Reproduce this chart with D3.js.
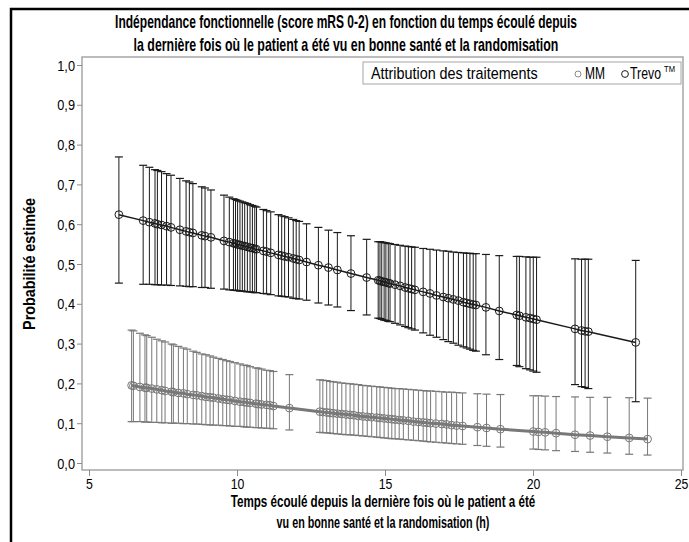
<!DOCTYPE html>
<html><head><meta charset="utf-8">
<script src="https://cdn.jsdelivr.net/npm/d3@7"></script>
<style>
body{margin:0;background:#fff}
text{font-family:"Liberation Sans",Arial,sans-serif}
</style>
</head><body>
<svg id="c" width="689" height="542"></svg>
<script>
const titleLines = ["Indépendance fonctionnelle (score mRS 0-2) en fonction du temps écoulé depuis",
                    "la dernière fois où le patient a été vu en bonne santé et la randomisation"];
const xTitleLines = ["Temps écoulé depuis la dernière fois où le patient a été",
                     "vu en bonne santé et la randomisation (h)"];
const yTitle = "Probabilité estimée";
const legendTitle = "Attribution des traitements";
const seriesNames = ["MM", "Trevo"];
const xTicks = [5, 10, 15, 20, 25];
const yTicks = [0, 0.1, 0.2, 0.3, 0.4, 0.5, 0.6, 0.7, 0.8, 0.9, 1.0];

const trevoTime = [6.01,6.83,7.04,7.23,7.31,7.45,7.62,7.77,8.07,8.28,
  8.39,8.51,8.81,8.92,9.12,9.56,9.74,9.88,9.95,10.02,
  10.1,10.18,10.26,10.35,10.44,10.52,10.6,10.66,10.89,11.0,
  11.14,11.4,11.51,11.61,11.74,11.9,12.0,12.1,12.35,12.75,
  13.09,13.39,13.85,14.38,14.77,14.83,14.89,14.97,15.03,15.11,
  15.17,15.34,15.51,15.68,15.79,15.9,16.01,16.29,16.52,16.74,
  16.97,17.14,17.31,17.48,17.65,17.76,17.87,17.98,18.07,18.41,
  18.86,19.45,19.54,19.76,19.9,20.01,20.12,21.42,21.64,21.76,
  21.87,23.47];
const trevoProb = [0.624,0.609,0.605,0.602,0.600,0.598,0.595,0.592,0.586,0.582,
  0.580,0.578,0.572,0.570,0.567,0.558,0.555,0.552,0.551,0.549,
  0.548,0.546,0.545,0.543,0.541,0.540,0.538,0.537,0.533,0.531,
  0.528,0.523,0.521,0.519,0.517,0.514,0.512,0.510,0.505,0.497,
  0.491,0.485,0.476,0.466,0.459,0.458,0.456,0.455,0.454,0.452,
  0.451,0.448,0.445,0.441,0.439,0.437,0.435,0.430,0.426,0.421,
  0.417,0.414,0.411,0.408,0.404,0.402,0.400,0.398,0.397,0.391,
  0.382,0.372,0.370,0.366,0.364,0.362,0.360,0.337,0.333,0.331,
  0.330,0.303];
const trevoLow = [0.452,0.449,0.449,0.448,0.448,0.447,0.447,0.446,0.445,0.444,
  0.443,0.443,0.441,0.441,0.439,0.437,0.435,0.434,0.434,0.433,
  0.432,0.432,0.431,0.430,0.430,0.429,0.428,0.428,0.426,0.425,
  0.423,0.420,0.419,0.418,0.417,0.414,0.413,0.412,0.409,0.402,
  0.397,0.392,0.383,0.372,0.364,0.363,0.361,0.359,0.358,0.356,
  0.355,0.351,0.347,0.343,0.340,0.337,0.334,0.327,0.321,0.316,
  0.310,0.305,0.301,0.296,0.292,0.289,0.286,0.283,0.281,0.272,
  0.260,0.245,0.242,0.237,0.234,0.231,0.228,0.197,0.192,0.190,
  0.187,0.154];
const trevoHigh = [0.769,0.748,0.743,0.737,0.735,0.732,0.727,0.723,0.715,0.709,
  0.706,0.702,0.694,0.691,0.686,0.673,0.668,0.664,0.662,0.660,
  0.658,0.656,0.654,0.652,0.649,0.647,0.645,0.643,0.637,0.634,
  0.631,0.624,0.621,0.619,0.616,0.612,0.609,0.607,0.601,0.592,
  0.585,0.579,0.571,0.562,0.556,0.556,0.555,0.554,0.553,0.552,
  0.551,0.549,0.547,0.545,0.544,0.543,0.542,0.539,0.537,0.535,
  0.533,0.532,0.530,0.529,0.528,0.527,0.527,0.526,0.526,0.524,
  0.521,0.519,0.519,0.518,0.517,0.517,0.517,0.513,0.512,0.512,
  0.512,0.509];

const mmTime = [6.44,6.50,6.72,6.89,6.95,7.12,7.29,7.46,7.57,7.79,
  7.85,8.02,8.19,8.32,8.52,8.64,8.81,8.95,9.09,9.20,
  9.37,9.52,9.65,9.76,9.93,10.10,10.24,10.33,10.44,10.64,
  10.72,10.83,11.00,11.11,11.23,11.77,12.80,12.90,13.03,13.14,
  13.25,13.39,13.54,13.68,13.82,13.95,14.10,14.25,14.40,14.55,
  14.72,14.83,14.97,15.11,15.23,15.34,15.48,15.62,15.79,15.96,
  16.13,16.29,16.41,16.54,16.72,16.92,17.08,17.25,17.42,17.62,
  18.12,18.43,18.90,20.01,20.18,20.41,20.78,21.42,21.93,22.51,
  23.25,23.87];
const mmProb = [0.195,0.194,0.191,0.189,0.189,0.187,0.185,0.183,0.181,0.179,
  0.178,0.176,0.175,0.173,0.171,0.170,0.168,0.166,0.165,0.164,
  0.162,0.160,0.159,0.158,0.156,0.154,0.153,0.152,0.151,0.149,
  0.148,0.147,0.146,0.145,0.143,0.138,0.129,0.128,0.127,0.126,
  0.125,0.124,0.123,0.122,0.121,0.120,0.118,0.117,0.116,0.115,
  0.114,0.113,0.112,0.111,0.110,0.109,0.108,0.107,0.106,0.104,
  0.103,0.102,0.101,0.100,0.099,0.098,0.097,0.095,0.094,0.093,
  0.090,0.088,0.085,0.079,0.078,0.077,0.075,0.071,0.069,0.066,
  0.063,0.060];
const mmLow = [0.104,0.104,0.104,0.103,0.103,0.102,0.102,0.101,0.101,0.100,
  0.100,0.100,0.099,0.099,0.098,0.098,0.097,0.096,0.096,0.095,
  0.095,0.094,0.094,0.093,0.092,0.092,0.091,0.090,0.090,0.089,
  0.089,0.088,0.087,0.087,0.086,0.083,0.077,0.076,0.076,0.075,
  0.074,0.073,0.072,0.071,0.071,0.070,0.069,0.068,0.067,0.066,
  0.065,0.064,0.063,0.062,0.061,0.061,0.060,0.059,0.058,0.057,
  0.056,0.055,0.054,0.053,0.052,0.051,0.050,0.049,0.048,0.047,
  0.044,0.042,0.040,0.035,0.034,0.033,0.031,0.029,0.027,0.025,
  0.022,0.020];
const mmHigh = [0.334,0.332,0.326,0.322,0.320,0.316,0.311,0.307,0.304,0.299,
  0.297,0.293,0.289,0.286,0.281,0.278,0.274,0.272,0.269,0.266,
  0.263,0.260,0.257,0.255,0.252,0.249,0.246,0.245,0.242,0.239,
  0.238,0.236,0.233,0.232,0.230,0.222,0.209,0.208,0.207,0.205,
  0.204,0.203,0.201,0.200,0.199,0.198,0.197,0.195,0.194,0.193,
  0.192,0.191,0.190,0.189,0.188,0.187,0.187,0.186,0.185,0.184,
  0.183,0.182,0.181,0.181,0.180,0.179,0.178,0.178,0.177,0.176,
  0.174,0.173,0.172,0.169,0.169,0.168,0.167,0.166,0.165,0.165,
  0.164,0.163];

const svg = d3.select('#c');
const L = 82, R = 683, T = 57, B = 470;
const x = d3.scaleLinear().domain([5, 25]).range([89, 681]);
const y = d3.scaleLinear().domain([0, 1]).range([463, 65]);

// place a text at (px,py), squeezed horizontally to the target width
function fitText(sel, px, py, target, rot) {
  const node = sel.node();
  const w = node.getComputedTextLength();
  const s = target / w;
  sel.attr('transform', `translate(${px},${py})` + (rot ? ` rotate(${rot})` : '') + ` scale(${s},1)`);
  return sel;
}

svg.append('rect').attr('width', 689).attr('height', 542).attr('fill', '#fff');
// outer frame
svg.append('rect').attr('x', 11).attr('y', 9).attr('width', 720).attr('height', 580)
  .attr('fill', 'none').attr('stroke', '#000').attr('stroke-width', 2.5);

// title
const titleW = [462, 425];
titleLines.forEach((t, i) => {
  const el = svg.append('text').attr('text-anchor', 'middle').attr('font-size', 18)
    .attr('font-weight', 'bold').text(t);
  fitText(el, 346, 28 + i * 23, titleW[i]);
});

// plot frame
svg.append('rect').attr('x', L).attr('y', T).attr('width', R - L).attr('height', B - T)
  .attr('fill', 'none').attr('stroke', '#a6a6a6').attr('stroke-width', 1.5);

// axes
const yAxis = d3.axisLeft(y).tickValues(yTicks)
  .tickFormat(d => d.toFixed(1).replace('.', ',')).tickSize(5).tickSizeOuter(0);
const gy = svg.append('g').attr('transform', `translate(${L},0)`).call(yAxis);
const xAxis = d3.axisBottom(x).tickValues(xTicks).tickFormat(d => d).tickSize(6).tickSizeOuter(0);
const gx = svg.append('g').attr('transform', `translate(0,${B})`).call(xAxis);
[gx, gy].forEach(g => {
  g.select('.domain').remove();
  g.selectAll('.tick line').attr('stroke', '#8c8c8c');
  g.selectAll('.tick text').attr('fill', '#000').attr('font-size', 15)
    .style('font-family', '"Liberation Sans",Arial,sans-serif');
});
gy.selectAll('.tick text').attr('x', null).attr('dy', null)
  .attr('transform', 'translate(-7,5) scale(0.85,1)');
gx.selectAll('.tick text').attr('y', null).attr('dy', null)
  .attr('transform', 'translate(0,19) scale(0.82,1)');

// axis titles
fitText(svg.append('text').attr('text-anchor', 'middle').attr('font-size', 16)
  .attr('font-weight', 'bold').text(yTitle), 35, 264, 132, -90);
const xTitleW = [305, 213];
xTitleLines.forEach((t, i) => {
  const el = svg.append('text').attr('text-anchor', 'middle').attr('font-size', 16)
    .attr('font-weight', 'bold').text(t);
  fitText(el, 383, 507 + i * 21, xTitleW[i]);
});

function drawSeries(times, probs, lows, highs, color, lineW, capW) {
  const data = times.map((t, i) => ({t, p: probs[i], lo: lows[i], hi: highs[i]}));
  const g = svg.append('g');
  g.selectAll('line.bar').data(data).join('line').attr('class', 'bar')
    .attr('x1', d => x(d.t)).attr('x2', d => x(d.t))
    .attr('y1', d => y(d.lo)).attr('y2', d => y(d.hi))
    .attr('stroke', color).attr('stroke-width', 1);
  g.selectAll('line.capH').data(data).join('line').attr('class', 'capH')
    .attr('x1', d => x(d.t) - capW).attr('x2', d => x(d.t) + capW)
    .attr('y1', d => y(d.hi)).attr('y2', d => y(d.hi))
    .attr('stroke', color).attr('stroke-width', 1.2);
  g.selectAll('line.capL').data(data).join('line').attr('class', 'capL')
    .attr('x1', d => x(d.t) - capW).attr('x2', d => x(d.t) + capW)
    .attr('y1', d => y(d.lo)).attr('y2', d => y(d.lo))
    .attr('stroke', color).attr('stroke-width', 1.2);
  g.append('path').datum(data)
    .attr('d', d3.line().x(d => x(d.t)).y(d => y(d.p)))
    .attr('fill', 'none').attr('stroke', color).attr('stroke-width', lineW);
  g.selectAll('circle').data(data).join('circle')
    .attr('cx', d => x(d.t)).attr('cy', d => y(d.p)).attr('r', 3.9)
    .attr('fill', 'none').attr('stroke', color).attr('stroke-width', 1);
}
drawSeries(mmTime, mmProb, mmLow, mmHigh, '#787878', 3, 4);
drawSeries(trevoTime, trevoProb, trevoLow, trevoHigh, '#1a1a1a', 1.5, 4);

// legend
const lg = svg.append('g');
lg.append('rect').attr('x', 363).attr('y', 62).attr('width', 318).attr('height', 22)
  .attr('fill', '#fff').attr('stroke', '#a6a6a6').attr('stroke-width', 1);
fitText(lg.append('text').attr('font-size', 16).text(legendTitle), 371, 79, 167);
const legendColors = ['#8a8a8a', '#1a1a1a'];
const legendX = [578, 625];
const legendW = [20, 31];
lg.selectAll('circle').data(seriesNames).join('circle')
  .attr('cx', (d, i) => legendX[i]).attr('cy', 74).attr('r', (d, i) => i ? 3.4 : 3)
  .attr('fill', 'none').attr('stroke', (d, i) => legendColors[i]).attr('stroke-width', 1);
seriesNames.forEach((n, i) => {
  fitText(lg.append('text').attr('font-size', 16).text(n), legendX[i] + (i ? 5 : 7), 79, legendW[i]);
});
fitText(lg.append('text').attr('font-size', 9).text('TM'), 664, 72, 11);
</script>
</body></html>
